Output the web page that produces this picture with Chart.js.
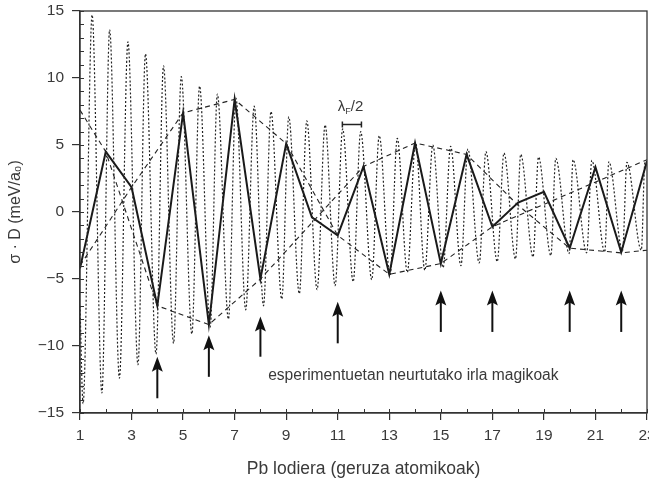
<!DOCTYPE html>
<html>
<head>
<meta charset="utf-8">
<script src="https://cdn.jsdelivr.net/npm/chart.js@4.4.1/dist/chart.umd.min.js"></script>
<style>
  html, body { margin: 0; padding: 0; background: #fff; }
  canvas { display: block; }
</style>
</head>
<body>
<canvas id="pbChart" width="649" height="483"></canvas>
<script>
// Pb thickness (atomic layers)
const layers = [1, 2, 3, 4, 5, 6, 7, 8, 9, 10, 11, 12, 13, 14, 15, 16, 17, 18, 19, 20, 21, 22, 23];
// sigma * D sampled at whole layers (solid zigzag)
const sigmaD = [-4.2, 4.5, 1.85, -7.0, 7.4, -8.4, 8.4, -5.0, 5.1, -0.4, -1.75, 3.4, -4.65, 5.15, -3.85, 4.3, -1.1, 0.7, 1.5, -2.7, 3.35, -3.0, 3.8];

// continuous oscillation (dotted), read as peaks and troughs
const peakX = [1.47, 2.15, 2.86, 3.54, 4.24, 4.93, 5.64, 6.33, 7.05, 7.76, 8.41, 9.10, 9.80, 10.51, 11.19, 11.89,
  12.61, 13.31, 14.02, 14.69, 15.38, 16.05, 16.75, 17.45, 18.10, 18.79, 19.46, 20.13, 20.86, 21.52, 22.22, 22.92];
const peakY = [14.7, 13.6, 12.7, 11.8, 10.9, 10.1, 9.4, 8.8, 8.5, 7.9, 7.5, 7.1, 6.8, 6.5, 6.2, 6.0,
  5.7, 5.5, 5.2, 5.0, 4.9, 4.7, 4.5, 4.4, 4.3, 4.1, 4.0, 3.9, 3.85, 3.75, 3.7, 3.7];
const troughX = [1.12, 1.85, 2.53, 3.25, 3.95, 4.63, 5.34, 6.05, 6.76, 7.43, 8.12, 8.83, 9.51, 10.20, 10.90, 11.60,
  12.32, 13.03, 13.70, 14.38, 15.09, 15.78, 16.49, 17.19, 17.90, 18.58, 19.27, 19.98, 20.66, 21.36, 22.05, 22.78];
const troughY = [-14.3, -13.5, -12.4, -11.4, -10.6, -9.8, -9.1, -8.6, -8.0, -7.3, -7.0, -6.5, -6.1, -5.8, -5.5, -5.2,
  -5.05, -4.75, -4.5, -4.35, -4.15, -4.0, -3.8, -3.7, -3.5, -3.35, -3.25, -3.1, -3.05, -3.0, -2.9, -2.85];
const waveStart = [1, -7.0];
const waveEnd = [23, 3.5];

// dashed beat envelopes
const envAX = [1, 3, 5, 7, 9, 11, 13, 15, 17, 23];
const envAY = [-4.0, 1.85, 7.4, 8.4, 5.1, -1.75, -4.65, -3.85, -1.1, 3.9];
const envBX = [1, 2, 4, 6, 8, 12, 14, 16, 18, 20, 22, 23];
const envBY = [7.6, 4.5, -7.0, -8.4, -5.0, 3.4, 5.15, 4.3, 0.5, -2.7, -3.05, -2.85];

// magic islands seen in experiment (arrows)
const arrowLayers = [4, 6, 8, 11, 15, 17, 20, 22];
const arrowTips = [-10.8, -9.2, -7.8, -6.7, -5.85, -5.85, -5.85, -5.85];
const arrowBases = [-13.9, -12.3, -10.8, -9.8, -8.95, -8.95, -8.95, -8.95];

const noteText = "esperimentuetan neurtutako irla magikoak";
const ink = "#222";
const textColor = "#3a3a3a";
const fontFamily = '"Liberation Sans", Arial, sans-serif';

function pairs(xs, ys) {
  return xs.map((v, i) => ({ x: v, y: ys[i] }));
}

const wavePoints = [{ x: waveStart[0], y: waveStart[1] }]
  .concat(pairs(peakX, peakY), pairs(troughX, troughY))
  .concat([{ x: waveEnd[0], y: waveEnd[1] }])
  .sort((a, b) => a.x - b.x);

function minus(v) {
  return v < 0 ? "\u2212" + Math.abs(v) : String(v);
}

const overlay = {
  id: "overlay",
  afterDatasetsDraw(chart) {
    const { ctx, chartArea: a, scales: { x, y } } = chart;
    ctx.save();

    // frame
    ctx.strokeStyle = "#333";
    ctx.lineWidth = 1.3;
    ctx.strokeRect(a.left, a.top, a.right - a.left, a.bottom - a.top);

    // small inward ticks
    ctx.lineWidth = 1;
    ctx.beginPath();
    layers.forEach(l => {
      const px = Math.round(x.getPixelForValue(l)) + 0.5;
      ctx.moveTo(px, a.bottom);
      ctx.lineTo(px, a.bottom - 4);
    });
    for (let v = -15; v <= 15; v++) {
      const py = Math.round(y.getPixelForValue(v)) + 0.5;
      ctx.moveTo(a.left, py);
      ctx.lineTo(a.left + 4, py);
    }
    ctx.stroke();

    // arrows
    ctx.strokeStyle = "#111";
    ctx.fillStyle = "#111";
    arrowLayers.forEach((l, i) => {
      const px = x.getPixelForValue(l);
      const tip = y.getPixelForValue(arrowTips[i]);
      const base = y.getPixelForValue(arrowBases[i]);
      ctx.lineWidth = 2;
      ctx.beginPath();
      ctx.moveTo(px, base);
      ctx.lineTo(px, tip + 8);
      ctx.stroke();
      ctx.beginPath();
      ctx.moveTo(px, tip);
      ctx.lineTo(px - 5.5, tip + 15);
      ctx.lineTo(px, tip + 12);
      ctx.lineTo(px + 5.5, tip + 15);
      ctx.closePath();
      ctx.fill();
    });

    // note
    ctx.fillStyle = textColor;
    ctx.font = "15.6px " + fontFamily;
    ctx.textBaseline = "middle";
    ctx.textAlign = "left";
    ctx.fillText(noteText, x.getPixelForValue(8.3), y.getPixelForValue(-12.2));

    // lambda_F / 2 with bar
    const lx = x.getPixelForValue(11.0);
    const ly = y.getPixelForValue(7.55);
    ctx.textBaseline = "alphabetic";
    ctx.font = "15px " + fontFamily;
    ctx.fillText("\u03BB", lx, ly);
    let w = ctx.measureText("\u03BB").width;
    ctx.font = "9px " + fontFamily;
    ctx.fillText("F", lx + w, ly + 3);
    w += ctx.measureText("F").width;
    ctx.font = "15px " + fontFamily;
    ctx.fillText("/2", lx + w, ly);

    const b0 = x.getPixelForValue(11.18);
    const b1 = x.getPixelForValue(11.92);
    const by = Math.round(y.getPixelForValue(6.6)) + 0.5;
    ctx.strokeStyle = "#222";
    ctx.lineWidth = 1.5;
    ctx.beginPath();
    ctx.moveTo(b0, by); ctx.lineTo(b1, by);
    ctx.moveTo(b0, by - 3); ctx.lineTo(b0, by + 3);
    ctx.moveTo(b1, by - 3); ctx.lineTo(b1, by + 3);
    ctx.stroke();

    ctx.restore();
  }
};

const ctx = document.getElementById("pbChart").getContext("2d");

new Chart(ctx, {
  type: "line",
  data: {
    datasets: [
      {
        label: "oscillation",
        data: wavePoints,
        borderColor: ink,
        borderWidth: 1.2,
        borderDash: [2, 2],
        pointRadius: 0,
        cubicInterpolationMode: "monotone",
        fill: false
      },
      {
        label: "envelope A",
        data: pairs(envAX, envAY),
        borderColor: ink,
        borderWidth: 1.1,
        borderDash: [5, 4],
        pointRadius: 0,
        tension: 0,
        fill: false
      },
      {
        label: "envelope B",
        data: pairs(envBX, envBY),
        borderColor: ink,
        borderWidth: 1.1,
        borderDash: [5, 4],
        pointRadius: 0,
        tension: 0,
        fill: false
      },
      {
        label: "sigma D",
        data: pairs(layers, sigmaD),
        borderColor: "#1a1a1a",
        borderWidth: 2,
        pointRadius: 0,
        tension: 0,
        fill: false
      }
    ]
  },
  options: {
    responsive: false,
    animation: false,
    layout: { padding: { top: 11, right: 2, left: 0, bottom: 0 } },
    plugins: {
      legend: { display: false },
      tooltip: { enabled: false }
    },
    scales: {
      x: {
        type: "linear",
        min: 1,
        max: 23,
        afterFit: s => { s.height = 70; s.paddingLeft = 0; s.paddingRight = 0; },
        ticks: {
          stepSize: 1,
          autoSkip: false,
          maxRotation: 0,
          padding: 6,
          color: textColor,
          font: { family: fontFamily, size: 15.5 },
          callback: v => (v % 2 === 1 ? String(v) : "")
        },
        grid: {
          drawOnChartArea: false,
          drawTicks: true,
          tickLength: 7,
          lineWidth: 1.2,
          color: c => (c.tick && c.tick.value % 2 === 1 ? "#333" : "rgba(0,0,0,0)")
        },
        border: { display: true, color: "#333", width: 1.3 },
        title: {
          display: true,
          text: "Pb lodiera (geruza atomikoak)",
          color: textColor,
          font: { family: fontFamily, size: 17.5 },
          padding: { top: 0, bottom: 3 }
        }
      },
      y: {
        min: -15,
        max: 15,
        afterFit: s => { s.width = 80; s.paddingTop = 0; s.paddingBottom = 0; },
        ticks: {
          stepSize: 1,
          autoSkip: false,
          padding: 8,
          color: textColor,
          font: { family: fontFamily, size: 15.5 },
          callback: v => (v % 5 === 0 ? minus(v) : "")
        },
        grid: {
          drawOnChartArea: false,
          drawTicks: true,
          tickLength: 8,
          lineWidth: 1.2,
          color: c => (c.tick && c.tick.value % 5 === 0 ? "#333" : "rgba(0,0,0,0)")
        },
        border: { display: true, color: "#333", width: 1.3 },
        title: {
          display: true,
          text: "\u03C3 \u00B7 D (meV/a\u2080)",
          color: textColor,
          font: { family: fontFamily, size: 16 },
          padding: { top: 6, bottom: 0 }
        }
      }
    }
  },
  plugins: [overlay]
});
</script>
</body>
</html>
